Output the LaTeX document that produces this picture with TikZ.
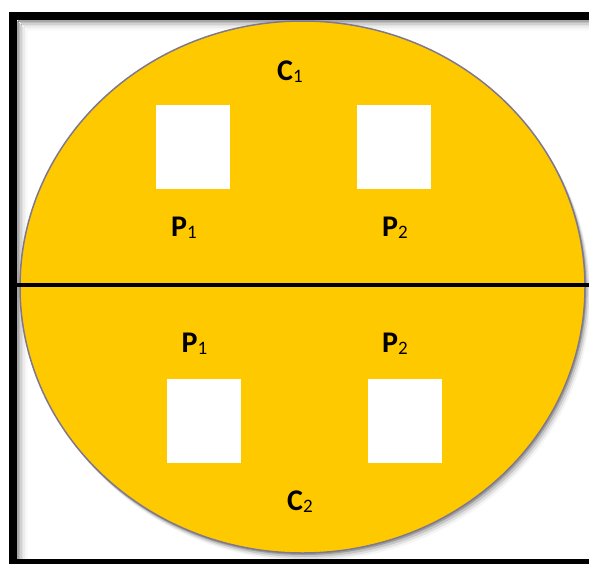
\documentclass[tikz,border=0pt]{standalone}
\usepackage{fontspec}
\setmainfont{Carlito}
\usetikzlibrary{shapes.geometric}
\definecolor{disc}{RGB}{255,201,0}
\definecolor{rim}{RGB}{128,120,140}
\tikzset{
  x=1pt, y=-1pt,
  frame/.style={draw=black, line width=8pt},
  cell/.style={fill=white, draw=none, minimum width=74pt, minimum height=84pt, inner sep=0pt},
  tag/.style={font=\fontsize{30}{30}\selectfont\bfseries, inner sep=0pt, text=black},
}
\newcommand{\lab}[2]{#1{\fontsize{19}{19}\selectfont\mdseries\raisebox{-2pt}{#2}}}
\begin{document}
\begin{tikzpicture}
\useasboundingbox (0,0) rectangle (589,563);
\clip (0,0) rectangle (589,563);
\fill[white] (0,0) rectangle (589,563);
% soft inner shade of the frame along the top and left
\foreach \k/\o in {1/0.35,2.5/0.26,4/0.18,5.5/0.12,7/0.07,8.5/0.04,10/0.02}{
  \draw[black, opacity=\o, line width=1.5pt] (17+\k,20+\k) -- (17+\k,563);
  \draw[black, opacity=\o, line width=1.5pt] (17+\k,20+\k) -- (589,20+\k);
}
% frame: left, top and bottom bars
\draw[frame] (600,16) -- (13,16) -- (13,563) -- (600,563);
% shadow of the disc
\foreach \k/\o in {2/0.20,4/0.13,6/0.08,8/0.04}{
  \fill[black, opacity=\o] (302.5+\k*0.7,287+\k) ellipse [x radius=282.5, y radius=266];
}
% disc
\node[ellipse, draw=rim, fill=disc, line width=1.5pt, minimum width=565pt, minimum height=532pt, inner sep=0pt] (disc) at (302.5,287) {};
% dividing line
\coordinate (L) at (17,285);
\coordinate (R) at (589,285);
\draw[line width=4pt] (L) -- (R);
% cells
\node[cell] (a1) at (193,147) {};
\node[cell] (a2) at (393.5,147) {};
\node[cell] (b1) at (204,421) {};
\node[cell] (b2) at (404.5,421) {};
% labels
\node[tag] (c1) at (290,72) {\lab{C}{1}};
\node[tag] (p11) at (184,228) {\lab{P}{1}};
\node[tag] (p12) at (395,228) {\lab{P}{2}};
\node[tag] (p21) at (194.5,344) {\lab{P}{1}};
\node[tag] (p22) at (395,344) {\lab{P}{2}};
\node[tag] (c2) at (300,502) {\lab{C}{2}};
\end{tikzpicture}
\end{document}
